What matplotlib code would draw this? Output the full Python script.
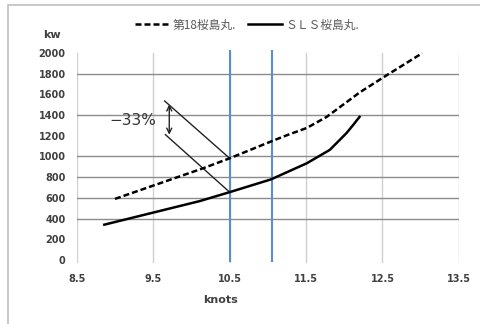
import matplotlib
matplotlib.use("Agg")
import matplotlib.pyplot as plt
from matplotlib.patches import Rectangle

plt.rcParams['font.family'] = ['Noto Sans CJK JP', 'DejaVu Sans']

# Ship power curves (speed in knots -> power in kW)
speed_old = [9.0, 10.15, 10.5, 11.04, 11.25, 11.51, 11.77, 12.2, 12.51, 13.02]
power_old = [590, 885, 982, 1144, 1205, 1275, 1382, 1617, 1763, 1997]
speed_new = [8.86, 10.11, 10.5, 11.04, 11.51, 11.81, 11.92, 12.03, 12.12, 12.2]
power_new = [341, 569, 655, 778, 934, 1063, 1144, 1226, 1307, 1382]
series_names = ["第18桜島丸.", "ＳＬＳ桜島丸."]

# Reference speeds marked with vertical lines
ref_speeds = [10.5, 11.05]

# Reduction annotation
reduction_label = "−33%"
callout_upper = [(10.5, 982), (9.65, 1535)]
callout_lower = [(10.5, 655), (9.66, 1210)]
arrow_x = 9.71
arrow_top, arrow_bottom = 1502, 1210

x_ticks = [8.5, 9.5, 10.5, 11.5, 12.5, 13.5]
y_ticks = list(range(0, 2001, 200))
grid_levels = [400, 600, 800, 1000, 1400, 1800]

fig = plt.figure(figsize=(4.8, 3.24), dpi=100)
ax = fig.add_axes([0.160, 0.188, 0.796, 0.652])

# chart-area frame
fig.patches.append(Rectangle((8 / 480, -0.05), 1.2, 1 - 5 / 324 + 0.05,
                             transform=fig.transFigure, fill=False,
                             edgecolor='#BFBFBF', linewidth=1.2))

ax.set_xlim(8.5, 13.5)
ax.set_ylim(-30, 2010)
for s in ax.spines.values():
    s.set_visible(False)

for x in x_ticks:
    ax.plot([x, x], [-40, 2000], color='#D0D0D0', lw=1.0, zorder=1)
for y in grid_levels:
    ax.plot([8.5, 13.5], [y, y], color='#8C8C8C', lw=1.0, zorder=1)

for x in ref_speeds:
    ax.plot([x, x], [-10, 2020], color='#5B8ED0', lw=1.5, zorder=2, clip_on=False)

l1, = ax.plot(speed_old, power_old, color='black', lw=1.8, ls=(0, (2.4, 1.2)),
              zorder=4, solid_joinstyle='round')
l2, = ax.plot(speed_new, power_new, color='black', lw=1.8, zorder=4,
              solid_joinstyle='round')

for seg in (callout_upper, callout_lower):
    ax.plot([p[0] for p in seg], [p[1] for p in seg], color='#222222', lw=1.0, zorder=3)
ax.annotate('', xy=(arrow_x, arrow_top), xytext=(arrow_x, arrow_bottom),
            arrowprops=dict(arrowstyle='<->', color='#222222', lw=1.0,
                            shrinkA=0, shrinkB=0, mutation_scale=9))
ax.text(9.23, 1349, reduction_label, fontsize=11, color='#333333',
        ha='center', va='center', family='DejaVu Sans')

ax.set_xticks(x_ticks)
ax.set_xticklabels([f"{v:.1f}" for v in x_ticks])
ax.set_yticks(y_ticks)
ax.tick_params(length=0, labelsize=7, labelcolor='#404040', pad=8)
for lab in ax.get_xticklabels() + ax.get_yticklabels():
    lab.set_fontweight('bold')
    lab.set_family('DejaVu Sans')

fig.text(52 / 480, 1 - 35 / 324, 'kw', fontsize=8, fontweight='bold',
         color='#404040', ha='center', va='center', family='DejaVu Sans')
fig.text(220 / 480, 1 - 300 / 324, 'knots', fontsize=8, fontweight='bold',
         color='#404040', ha='center', va='center', family='DejaVu Sans')

fig.legend([l1, l2], series_names, loc='center', bbox_to_anchor=(247 / 480, 1 - 25 / 324),
           ncol=2, frameon=False, fontsize=8.5, labelcolor='#595959',
           handlelength=2.9, handletextpad=0.3, columnspacing=1.0)

fig.savefig('out.png', dpi=100)
